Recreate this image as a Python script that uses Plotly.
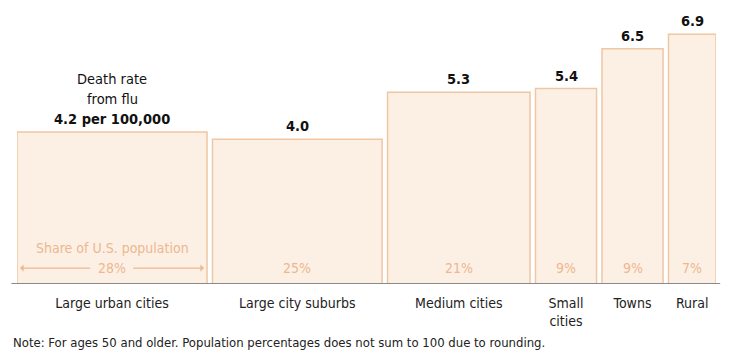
import plotly.graph_objects as go

categories = ["Large urban cities", "Large city suburbs", "Medium cities", "Small<br>cities", "Towns", "Rural"]
death_rate = [4.2, 4.0, 5.3, 5.4, 6.5, 6.9]
pop_share = [28, 25, 21, 9, 9, 7]
value_labels = ["4.2 per 100,000", "4.0", "5.3", "5.4", "6.5", "6.9"]
share_labels = ["28%", "25%", "21%", "9%", "9%", "7%"]
header_lines = ["Death rate", "from flu"]

GAP = 0.8
centers = []
pos = 0.0
for s in pop_share:
    centers.append(pos + s / 2)
    pos += s + GAP
total = pos - GAP

FILL = "#FCF0E5"
EDGE = "#F0C6A3"
PEACH = "#EDB78F"
FONT = "Liberation Sans Narrow, DejaVu Sans Condensed, Arial Narrow, sans-serif"

fig = go.Figure()
fig.add_trace(go.Bar(
    x=centers, y=death_rate, width=pop_share,
    marker=dict(color=FILL, line=dict(color=EDGE, width=1.5)),
    hoverinfo="skip",
))

annotations = []
for i, (c, v) in enumerate(zip(centers, death_rate)):
    annotations.append(dict(x=c, y=v, xref="x", yref="y", text="<b>" + value_labels[i] + "</b>",
                            showarrow=False, yanchor="bottom", yshift=3,
                            font=dict(size=14.5, color="#111111", family=FONT)))
    annotations.append(dict(x=c, y=0.44, xref="x", yref="y", text=share_labels[i], showarrow=False,
                            font=dict(size=14, color=PEACH, family=FONT)))

for j, line in enumerate(reversed(header_lines)):
    annotations.append(dict(x=centers[0], y=death_rate[0], xref="x", yref="y", text=line,
                            showarrow=False, yanchor="bottom", yshift=3 + 20 * (j + 1),
                            font=dict(size=14.5, color="#111111", family=FONT)))

annotations.append(dict(x=centers[0], y=0.99, xref="x", yref="y", text="Share of U.S. population",
                        showarrow=False, font=dict(size=14, color=PEACH, family=FONT)))
# arrows
annotations.append(dict(x=0.45, y=0.44, ax=11.0, ay=0.44, xref="x", yref="y", axref="x", ayref="y",
                        text="", showarrow=True, arrowhead=1, arrowsize=1, arrowwidth=1.2, arrowcolor=PEACH))
annotations.append(dict(x=27.55, y=0.44, ax=16.9, ay=0.44, xref="x", yref="y", axref="x", ayref="y",
                        text="", showarrow=True, arrowhead=1, arrowsize=1, arrowwidth=1.2, arrowcolor=PEACH))

annotations.append(dict(x=0, y=0, xref="paper", yref="paper", xshift=-6, yshift=-58,
                        xanchor="left", yanchor="middle", showarrow=False,
                        text="Note: For ages 50 and older. Population percentages does not sum to 100 due to rounding.",
                        font=dict(size=13, color="#222222", family=FONT)))

fig.update_layout(
    width=732, height=359,
    margin=dict(l=9, r=24, t=2, b=83),
    paper_bgcolor="white", plot_bgcolor="white",
    showlegend=False,
    annotations=annotations,
    xaxis=dict(range=[0, total], tickvals=centers, ticktext=categories, showgrid=False,
               zeroline=False, showline=False, ticks="", ticklabelstandoff=9,
               tickfont=dict(size=14, color="#222222", family=FONT)),
    yaxis=dict(range=[0, 7.57], visible=False, showgrid=False, zeroline=False),
    shapes=[dict(type="line", xref="paper", yref="y", x0=-0.008, x1=1.006, y0=0, y1=0,
                 line=dict(color="#8a8a8a", width=2))],
)

fig.write_html("out.html")
